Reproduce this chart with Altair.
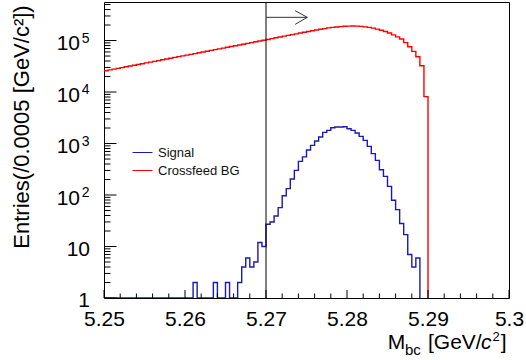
import altair as alt
import pandas as pd

# ---------------- data ----------------
BIN_START = 5.25
BIN_WIDTH = 0.0005
X_DOMAIN = [5.25, 5.30]
Y_DOMAIN = [1, 560000]

series_names = ["Signal", "Crossfeed BG"]
series_colors = ["#1a1ab0", "#ff0000"]

# Crossfeed BG, bins starting at 5.25 (80 bins up to 5.29)
crossfeed = [25900, 26900, 27800, 28800, 29800, 30900, 32000, 33100, 34300, 35500,
             36800, 38100, 39400, 40800, 42300, 43800, 45300, 47000, 48600, 50400,
             52100, 53900, 55800, 57800, 60000, 62100, 64300, 66500, 68900, 71300,
             74000, 76600, 79200, 82000, 84900, 87900, 91000, 94400, 97700, 101200,
             104700, 108900, 113000, 117200, 121600, 125900, 130300, 134900, 140000, 144900,
             150000, 154900, 160300, 165600, 170600, 175800, 179900, 183700, 186600, 188800,
             190500, 191400, 190500, 188400, 184500, 179900, 173800, 166700, 158500, 149600,
             139600, 128800, 118000, 107200, 91200, 75900, 61700, 48500, 32400, 8130]

# Signal, bins starting at 5.25 (78 bins up to 5.289)
signal = [0, 0, 0, 0, 0, 0, 0, 0, 0, 0,
          0, 0, 0, 0, 0, 0, 0, 0, 0, 0,
          0, 0, 2, 0, 0, 0, 0, 2, 0, 0,
          2, 0, 0, 2, 4, 6, 4, 5, 12, 10,
          27, 30, 39, 57, 97, 133, 205, 301, 450, 550,
          750, 921, 1119, 1337, 1648, 1802, 2030, 2090, 2090, 2120,
          1941, 1802, 1600, 1378, 1152, 881, 635, 471, 310, 230,
          147, 79, 52, 28, 17, 7, 4, 6]

x_tick_labels = [5.25, 5.26, 5.27, 5.28, 5.29, 5.30]
y_plain_ticks = [1, 10]
y_plain_text = ["1", "10"]
y_pow_ticks = [100, 1000, 10000, 100000]
y_pow_exp = ["2", "3", "4", "5"]

cut_value = [5.27]
arrow_x = [5.27, 5.2751]
arrow_y = [282000, 282000]
arrowhead_x = [5.2736, 5.2751, 5.2736]
arrowhead_y = [379000, 282000, 206000]

FONT = "Liberation Sans"
W, H = 405, 296

# ---------------- tables ----------------
rows = []
for name, vals in (("Signal", signal), ("Crossfeed BG", crossfeed)):
    for i, v in enumerate(vals):
        rows.append({"x": round(BIN_START + i * BIN_WIDTH, 4), "v": v, "series": name})
    rows.append({"x": round(BIN_START + len(vals) * BIN_WIDTH, 4), "v": 0, "series": name})
hist = pd.DataFrame(rows)

xt = [round(5.25 + 0.002 * k, 3) for k in range(26)]
xticks = pd.DataFrame({"x": xt, "major": [k % 5 == 0 for k in range(26)]})
yt = []
for k in range(6):
    for m in range(1, 10):
        val = m * 10 ** k
        if val <= Y_DOMAIN[1]:
            yt.append({"vp": val, "major": m == 1})
yticks = pd.DataFrame(yt)

xscale = alt.Scale(domain=X_DOMAIN, nice=False, zero=False)
yscale = alt.Scale(type="log", domain=Y_DOMAIN, nice=False)

XAXIS = alt.Axis(values=x_tick_labels, format=".2~f", ticks=False, domain=False, grid=False,
                 labelFontSize=21, labelFont=FONT, labelColor="black", labelPadding=10,
                 labelFlush=False, labelOverlap=False, title=None)
YAXIS = alt.Axis(values=y_plain_ticks + y_pow_ticks, labels=False, ticks=False, domain=False,
                 grid=False,
                 title="Entries(/0.0005 [GeV/c²])", titleFont=FONT, titleFontSize=22,
                 titleFontWeight="normal", titleColor="black", titleAngle=270,
                 titleX=-75.5, titleY=124.5, titleAlign="center",
                 titleBaseline="alphabetic")

def X(field):
    return alt.X(field, scale=xscale, axis=XAXIS)

def Y(field):
    return alt.Y(field, scale=yscale, axis=YAXIS)

hist_layer = alt.Chart(hist).transform_calculate(
    vp="max(datum.v, 1)"
).mark_line(interpolate="step-after", strokeWidth=1.4, clip=True).encode(
    x=X("x:Q"),
    y=Y("vp:Q"),
    color=alt.Color("series:N", scale=alt.Scale(domain=series_names, range=series_colors),
                    legend=alt.Legend(orient="none", legendX=28, legendY=140, title=None,
                                      symbolType="stroke", symbolSize=400, symbolStrokeWidth=1,
                                      labelFontSize=13, labelFont=FONT, labelColor="#111",
                                      labelOffset=5, rowPadding=-1, padding=0)),
    detail="series:N",
)

xtick_major = alt.Chart(xticks).transform_filter("datum.major").mark_rule(color="black").encode(
    x=X("x:Q"), y=alt.value(H), y2=alt.value(H - 8))
xtick_minor = alt.Chart(xticks).transform_filter("!datum.major").mark_rule(color="black").encode(
    x=X("x:Q"), y=alt.value(H), y2=alt.value(H - 4.5))
ytick_major = alt.Chart(yticks).transform_filter("datum.major").mark_rule(color="black").encode(
    y=Y("vp:Q"), x=alt.value(0), x2=alt.value(12.5))
ytick_minor = alt.Chart(yticks).transform_filter("!datum.major").mark_rule(color="black").encode(
    y=Y("vp:Q"), x=alt.value(0), x2=alt.value(6.5))

# y tick labels: 1, 10, 10^n with raised exponent
ylab_plain = alt.Chart(pd.DataFrame({"vp": y_plain_ticks, "s": y_plain_text})).mark_text(
    font=FONT, fontSize=21, align="right", baseline="middle", dy=3, color="black").encode(
    y=Y("vp:Q"), x=alt.value(-14), text="s:N")
ylab_base = alt.Chart(pd.DataFrame({"vp": y_pow_ticks, "s": ["10"] * len(y_pow_ticks)})).mark_text(
    font=FONT, fontSize=21, align="right", baseline="middle", dy=3.5, color="black").encode(
    y=Y("vp:Q"), x=alt.value(-24), text="s:N")
ylab_exp = alt.Chart(pd.DataFrame({"vp": y_pow_ticks, "s": y_pow_exp})).mark_text(
    font=FONT, fontSize=14, align="right", baseline="alphabetic", dy=2, color="black").encode(
    y=Y("vp:Q"), x=alt.value(-14.5), text="s:N")

cut = alt.Chart(pd.DataFrame({"x": cut_value})).mark_rule(color="black", strokeWidth=1).encode(
    x=X("x:Q"), y=alt.value(0), y2=alt.value(H))

arrow_df = pd.DataFrame({"x": arrow_x, "vp": arrow_y, "o": list(range(len(arrow_x)))})
head_df = pd.DataFrame({"x": arrowhead_x, "vp": arrowhead_y, "o": list(range(len(arrowhead_x)))})
arrow = alt.Chart(arrow_df).mark_line(color="#333333", strokeWidth=1).encode(
    x=X("x:Q"), y=Y("vp:Q"), order="o:Q")
head = alt.Chart(head_df).mark_line(color="#333333", strokeWidth=1).encode(
    x=X("x:Q"), y=Y("vp:Q"), order="o:Q")

def label(txt, x, y, size, align="left", style="normal"):
    return alt.Chart(pd.DataFrame({"s": [txt]})).mark_text(
        font=FONT, fontSize=size, align=align, baseline="alphabetic", color="black",
        fontStyle=style).encode(text="s:N", x=alt.value(x), y=alt.value(y))

t_m = label("M", 283.7, 346.8, 21)
t_bc = label("bc", 301, 352.5, 15)
t_u1 = label("[GeV/", 324, 346.8, 21)
t_c = label("c", 377, 346.8, 21, style="italic")
t_2 = label("2", 388.5, 338.5, 13)
t_u2 = label("]", 402.7, 346.8, 21, align="right")

chart = alt.layer(
    hist_layer, xtick_major, xtick_minor, ytick_major, ytick_minor,
    ylab_plain, ylab_base, ylab_exp,
    cut, arrow, head, t_m, t_bc, t_u1, t_c, t_2, t_u2
).properties(
    width=W, height=H,
    autosize=alt.AutoSizeParams(type="none"),
    padding={"left": 104, "top": 2, "right": 17, "bottom": 62},
    background="white",
).configure_view(stroke="black", strokeWidth=1)

chart.save("out.html", embed_options={"renderer": "svg", "actions": False})
